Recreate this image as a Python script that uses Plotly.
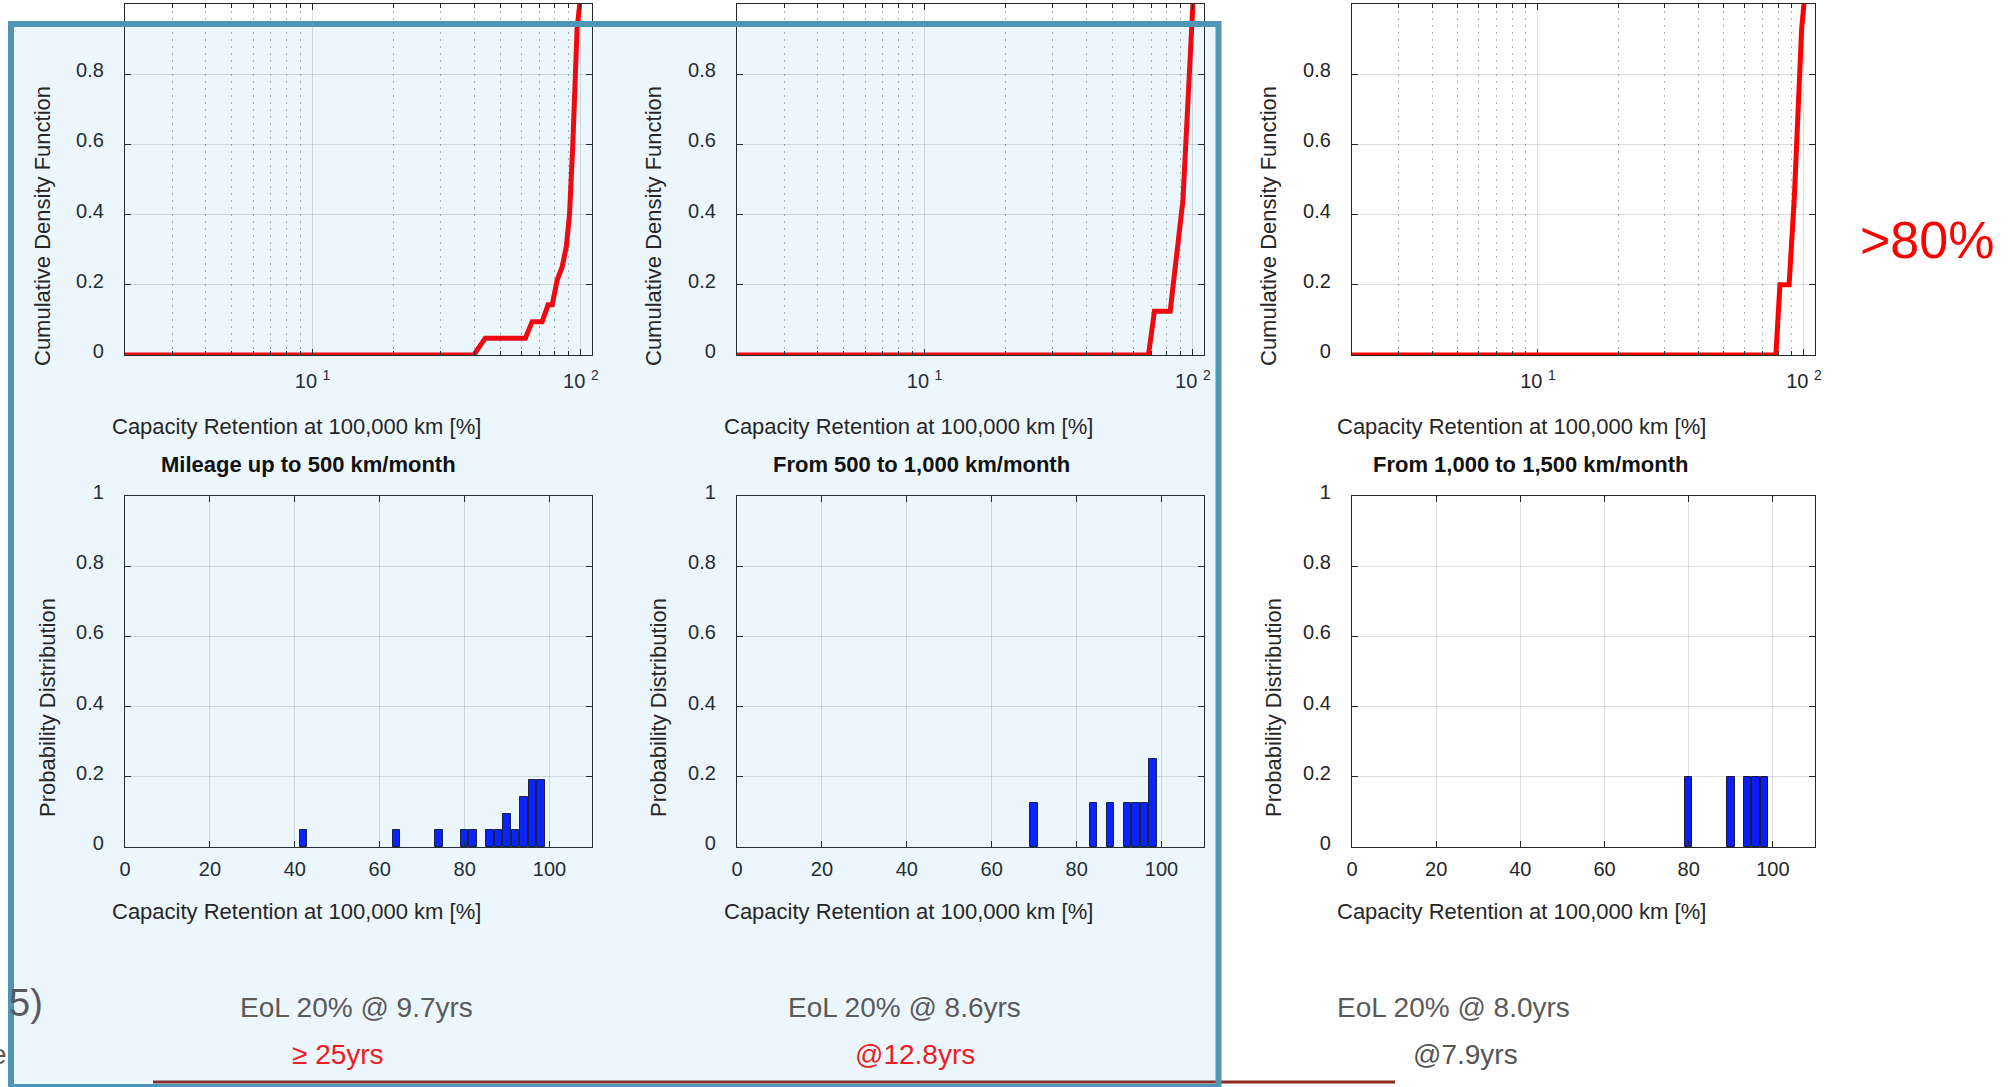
import math
import plotly.graph_objects as go

W, H = 2016, 1087
FONT = "Liberation Sans"
INK = "#262626"

# ---- data -------------------------------------------------------------
# Cumulative density of capacity retention at 100,000 km (x in %, y fraction)
cdf1_x = [2, 39.9, 44.0, 62.1, 65.8, 71.7, 75.5, 78.2, 81.6, 85.1, 88.3, 90.7, 93.3, 94.9, 96.8, 99.0]
cdf1_y = [0, 0, 0.048, 0.048, 0.095, 0.095, 0.143, 0.143, 0.214, 0.25, 0.31, 0.40, 0.60, 0.80, 0.93, 1.0]
cdf2_x = [2, 68.3, 71.9, 82.3, 91.8, 98.3, 100.0]
cdf2_y = [0, 0, 0.125, 0.125, 0.44, 0.945, 1.0]
cdf3_x = [2, 78.4, 81.2, 87.9, 92.0, 94.0, 95.8, 98.0, 100.0]
cdf3_y = [0, 0, 0.2, 0.2, 0.45, 0.62, 0.80, 0.93, 1.0]

# Probability distribution (bin centre in %, probability)
hist1_x = [42, 64, 74, 80, 82, 86, 88, 90, 92, 94, 96, 98]
hist1_p = [0.048, 0.048, 0.048, 0.048, 0.048, 0.048, 0.048, 0.095, 0.048, 0.143, 0.190, 0.190]
hist2_x = [70, 84, 88, 92, 94, 96, 98]
hist2_p = [0.125, 0.125, 0.125, 0.125, 0.125, 0.125, 0.25]
hist3_x = [80, 90, 94, 96, 98]
hist3_p = [0.2, 0.2, 0.2, 0.2, 0.2]

group_titles = ["Mileage up to 500 km/month",
                "From 500 to 1,000 km/month",
                "From 1,000 to 1,500 km/month"]
eol_labels = ["EoL 20% @ 9.7yrs", "EoL 20% @ 8.6yrs", "EoL 20% @ 8.0yrs"]
alt_labels = ["\u2265 25yrs", "@12.8yrs", "@7.9yrs"]
alt_colors = ["#ee1c24", "#ee1c24", "#555555"]

x_title = "Capacity Retention at 100,000 km [%]"
cdf_title = "Cumulative Density Function"
pdf_title = "Probability Distribution"

log_major = [10, 100]
log_major_text = ["10 <sup>1</sup>", "10 <sup>2</sup>"]
log_minor = [3, 4, 5, 6, 7, 8, 9, 20, 30, 40, 50, 60, 70, 80, 90]

# ---- layout geometry (pixels) ----------------------------------------
cols = [(125, 592), (737, 1204), (1352, 1815)]
top_row = (4, 355)
bot_row = (496, 847)


def px(x):
    return x / W


def py(y):
    return 1 - y / H


fig = go.Figure()

cdfs = [(cdf1_x, cdf1_y), (cdf2_x, cdf2_y), (cdf3_x, cdf3_y)]
hists = [(hist1_x, hist1_p), (hist2_x, hist2_p), (hist3_x, hist3_p)]

axis_common = dict(
    showline=True, linecolor=INK, linewidth=1.2, mirror="ticks",
    ticks="inside", ticklen=6, tickwidth=1, tickcolor=INK,
    showgrid=True, gridcolor="rgba(0,0,0,0.13)", gridwidth=1,
    zeroline=False, fixedrange=True, automargin=False,
    tickfont=dict(family=FONT, size=20, color=INK),
)

layout_axes = {}
for i, (x0, x1) in enumerate(cols):
    top = i + 1
    bot = i + 4
    # CDF line on log axis
    cx, cy = cdfs[i]
    fig.add_trace(go.Scatter(
        x=cx, y=cy, mode="lines",
        line=dict(color="#ff0000", width=5),
        xaxis=f"x{top}", yaxis=f"y{top}", showlegend=False, hoverinfo="skip",
    ))
    # histogram bars
    hx, hp = hists[i]
    fig.add_trace(go.Bar(
        x=hx, y=hp, width=1.75,
        marker=dict(color="#0b1cff", line=dict(color="#1a1a3a", width=1)),
        xaxis=f"x{bot}", yaxis=f"y{bot}", showlegend=False, hoverinfo="skip",
    ))

    layout_axes[f"xaxis{top}"] = dict(
        axis_common, type="log", domain=[px(x0), px(x1)], anchor=f"y{top}",
        range=[math.log10(2), math.log10(110)],
        tickvals=log_major, ticktext=log_major_text, ticklabelstandoff=8,
        minor=dict(tickvals=log_minor, ticks="inside", ticklen=4, tickcolor=INK,
                   showgrid=True, gridcolor="rgba(0,0,0,0.3)", griddash="2px,5px",
                   gridwidth=1),
    )
    layout_axes[f"yaxis{top}"] = dict(
        axis_common, domain=[py(top_row[1]), py(top_row[0])], anchor=f"x{top}",
        range=[0, 1], tickvals=[0, 0.2, 0.4, 0.6, 0.8, 1],
        ticktext=["0", "0.2", "0.4", "0.6", "0.8", "1"],
        ticklabelstandoff=16, ticklabelshift=-4,
    )
    layout_axes[f"xaxis{bot}"] = dict(
        axis_common, domain=[px(x0), px(x1)], anchor=f"y{bot}",
        range=[0, 110], tickvals=[0, 20, 40, 60, 80, 100], ticklabelstandoff=4,
    )
    layout_axes[f"yaxis{bot}"] = dict(
        axis_common, domain=[py(bot_row[1]), py(bot_row[0])], anchor=f"x{bot}",
        range=[0, 1], tickvals=[0, 0.2, 0.4, 0.6, 0.8, 1],
        ticktext=["0", "0.2", "0.4", "0.6", "0.8", "1"],
        ticklabelstandoff=16, ticklabelshift=-4,
    )

annotations = []


def note(text, x, y, size, color=INK, bold=False, angle=0, xanchor="center"):
    annotations.append(dict(
        text=f"<b>{text}</b>" if bold else text,
        x=px(x), y=py(y), xref="paper", yref="paper",
        xanchor=xanchor, yanchor="middle", showarrow=False, textangle=angle,
        font=dict(family=FONT, size=size, color=color),
    ))


xt_top = [296, 908, 1521]
xt_bot = [296, 908, 1521]
yt_cdf = [43, 654, 1269]
yt_pdf = [47, 658, 1273]
title_x = [308, 921, 1530]
eol_x = [356, 904, 1453]
alt_x = [338, 915, 1465]

for i in range(3):
    note(x_title, xt_top[i], 427, 22)
    note(x_title, xt_bot[i], 911, 22)
    note(cdf_title, yt_cdf[i], 226, 22, angle=-90)
    note(pdf_title, yt_pdf[i], 708, 22, angle=-90)
    note(group_titles[i], title_x[i], 465, 22, color="#111111", bold=True)
    note(eol_labels[i], eol_x[i], 1007, 28, color="#5a5a5a")
    note(alt_labels[i], alt_x[i], 1054, 28, color=alt_colors[i])

note(">80%", 1927, 240, 52, color="#ff0000")
note("5)", 45, 1003, 38, color="#5a5a5a", xanchor="right")
note("e", 9, 1054, 28, color="#5a5a5a", xanchor="right")

shapes = [
    # dark red rule along the bottom
    dict(type="line", xref="paper", yref="paper",
         x0=px(153), x1=px(1395), y0=py(1082), y1=py(1082),
         line=dict(color="#8b2b20", width=3), layer="below"),
    # highlight panel over the first two groups
    dict(type="rect", xref="paper", yref="paper",
         x0=px(11), x1=px(1218.5), y0=py(24), y1=py(1087),
         fillcolor="rgba(18,143,230,0.08)",
         line=dict(color="#4f96b4", width=6), layer="above"),
]

fig.update_layout(
    width=W, height=H, autosize=False,
    margin=dict(l=0, r=0, t=0, b=0, pad=0, autoexpand=False),
    paper_bgcolor="white", plot_bgcolor="rgba(0,0,0,0)",
    font=dict(family=FONT, color=INK),
    showlegend=False, bargap=0,
    annotations=annotations, shapes=shapes,
    **layout_axes,
)

fig.write_html("out.html", config={"displayModeBar": False})
